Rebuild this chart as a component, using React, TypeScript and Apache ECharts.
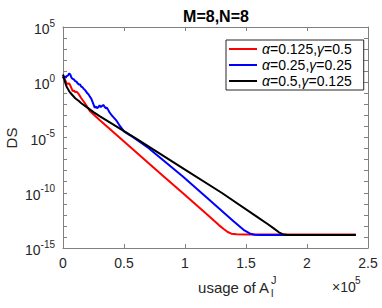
import React, { useEffect, useRef } from 'react';
import * as echarts from 'echarts';

// x in units of 1e5 (usage of A), y as log10(DS)
const redX = [0, 0.01, 0.02, 0.03, 0.04, 0.05, 0.06, 0.07, 0.08, 0.09, 0.1, 0.11, 0.12, 0.13, 0.15, 0.18, 0.22, 0.3, 0.5, 0.8, 1.0, 1.2, 1.28, 1.32, 1.35, 1.38, 1.42, 1.5, 2.0, 2.4];
const redY = [0.5, 0.3, 0.15, -0.1, -0.15, -0.1, -0.3, -0.55, -0.8, -0.75, -0.9, -0.85, -0.95, -1.1, -1.45, -1.9, -2.6, -3.42, -5.36, -8.27, -10.2, -12.15, -12.95, -13.3, -13.55, -13.7, -13.76, -13.77, -13.77, -13.77];

const blueX = [0, 0.01, 0.02, 0.03, 0.04, 0.05, 0.06, 0.07, 0.08, 0.09, 0.1, 0.11, 0.12, 0.13, 0.14, 0.15, 0.16, 0.17, 0.18, 0.19, 0.2, 0.21, 0.22, 0.23, 0.24, 0.25, 0.26, 0.27, 0.28, 0.29, 0.3, 0.31, 0.32, 0.33, 0.34, 0.35, 0.36, 0.37, 0.38, 0.39, 0.4, 0.42, 0.44, 0.46, 0.48, 0.5, 0.55, 0.63, 0.7, 0.98, 1.18, 1.4, 1.48, 1.53, 1.57, 1.62, 2.0, 2.4];
const blueY = [0.35, 0.55, 0.4, 0.55, 0.6, 0.8, 0.7, 0.4, 0.3, 0.25, 0.1, 0.05, -0.1, -0.2, -0.2, -0.4, -0.45, -0.6, -0.7, -0.85, -1.0, -1.1, -1.3, -1.45, -1.7, -2.0, -2.3, -2.2, -2.35, -2.25, -2.1, -2.25, -2.15, -2.05, -2.2, -2.35, -2.3, -2.5, -2.7, -2.85, -3.0, -3.25, -3.5, -3.85, -4.15, -4.45, -4.8, -5.4, -5.95, -8.5, -10.45, -12.6, -13.35, -13.68, -13.8, -13.83, -13.83, -13.83];

const blackX = [0, 0.01, 0.02, 0.03, 0.04, 0.05, 0.06, 0.08, 0.1, 0.13, 0.15, 0.2, 0.25, 0.3, 0.6, 1.0, 1.3, 1.6, 1.68, 1.73, 1.77, 1.8, 1.84, 2.0, 2.4];
const blackY = [0.7, 0.3, -0.1, -0.4, -0.6, -0.8, -0.95, -1.2, -1.45, -1.7, -1.9, -2.3, -2.7, -3.07, -5.1, -7.9, -10.0, -12.25, -12.85, -13.25, -13.58, -13.75, -13.83, -13.83, -13.83];

const seriesNames = ['s1', 's2', 's3'];
const alphaLabels = ['0.125', '0.25', '0.5'];
const gammaLabels = ['0.5', '0.25', '0.125'];
const seriesColors = ['#ff0000', '#0000ff', '#000000'];

const xMin = 0, xMax = 2.5, xInterval = 0.5;
const yMin = -15, yMax = 5, yInterval = 1, yLabelEvery = 5;

const FONT = '"Liberation Sans", Arial, Helvetica, sans-serif';

export default function App() {
  const ref = useRef<HTMLDivElement>(null);
  useEffect(() => {
    const chart = echarts.init(ref.current!, null, { renderer: 'svg' });
    const pair = (xs: number[], ys: number[]) => xs.map((x, i) => [x, ys[i]]);
    const data = [pair(redX, redY), pair(blueX, blueY), pair(blackX, blackY)];
    const axisColor = '#808080';
    const xAxisBase = {
      type: 'value', min: xMin, max: xMax, interval: xInterval,
      axisLine: { show: true, onZero: false, lineStyle: { color: axisColor, width: 1 } },
      axisTick: { show: true, inside: true, length: 4, lineStyle: { color: axisColor } },
      splitLine: { show: false },
    };
    const yAxisBase = {
      type: 'value', min: yMin, max: yMax, interval: yInterval,
      axisLine: { show: true, onZero: false, lineStyle: { color: axisColor, width: 1 } },
      axisTick: { show: true, inside: true, length: 4, lineStyle: { color: axisColor } },
      splitLine: { show: false },
    };
    chart.setOption({
      animation: false,
      grid: { left: 63, right: 14, top: 27, bottom: 60, containLabel: false },
      xAxis: [
        {
          ...xAxisBase, position: 'bottom',
          axisLabel: { color: '#262626', fontSize: 14, fontFamily: FONT, margin: 8, showMinLabel: true, showMaxLabel: true },
        },
        { ...xAxisBase, position: 'top', axisLabel: { show: false } },
      ],
      yAxis: [
        {
          ...yAxisBase, position: 'left',
          axisLabel: {
            color: '#262626', fontFamily: FONT, margin: 8, showMinLabel: true, showMaxLabel: true,
            formatter: (v: number) => (Math.round(v) % yLabelEvery === 0 ? `{b|10}{s|${Math.round(v)}}` : ''),
            rich: {
              b: { fontSize: 14, fontFamily: FONT, color: '#262626', lineHeight: 16, padding: [4, 0, 0, 0] },
              s: { fontSize: 10, fontFamily: FONT, color: '#262626', lineHeight: 12, padding: [0, 0, 8, 0] },
            },
          },
        },
        { ...yAxisBase, position: 'right', axisLabel: { show: false } },
      ],
      legend: {
        show: true,
        data: seriesNames,
        orient: 'vertical',
        left: 226,
        top: 40,
        itemWidth: 28,
        itemHeight: 2,
        itemGap: 2,
        icon: 'rect',
        padding: [2, 12, 2, 3],
        borderColor: '#262626',
        borderWidth: 1,
        backgroundColor: '#ffffff',
        formatter: (name: string) => {
          const i = seriesNames.indexOf(name);
          return `{i|α}{n|=${alphaLabels[i]},}{i|γ}{n|=${gammaLabels[i]}}`;
        },
        textStyle: {
          fontSize: 14, fontFamily: FONT, color: '#000',
          rich: {
            i: { fontSize: 14, fontFamily: FONT, fontStyle: 'italic', color: '#000', lineHeight: 15 },
            n: { fontSize: 14, fontFamily: FONT, color: '#000', lineHeight: 15 },
          },
        },
      },
      graphic: [
        { type: 'text', x: 216, y: 16, style: { text: 'M=8,N=8', fontSize: 16, fontWeight: 'bold', fontFamily: FONT, fill: '#000', textAlign: 'center', textVerticalAlign: 'middle' } },
        { type: 'text', x: 11, y: 138, rotation: Math.PI / 2, style: { text: 'DS', fontSize: 15, fontFamily: FONT, fill: '#262626', textAlign: 'center', textVerticalAlign: 'middle' } },
        { type: 'text', x: 269, y: 287, style: { text: 'usage of A', fontSize: 15, fontFamily: FONT, fill: '#262626', textAlign: 'right', textVerticalAlign: 'middle' } },
        { type: 'text', x: 271, y: 280, style: { text: 'J', fontSize: 11, fontFamily: FONT, fill: '#262626', textAlign: 'left', textVerticalAlign: 'middle' } },
        { type: 'text', x: 271, y: 293, style: { text: 'l', fontSize: 11, fontFamily: FONT, fill: '#262626', textAlign: 'left', textVerticalAlign: 'middle' } },
        { type: 'text', x: 332, y: 287, style: { text: '×10', fontSize: 14, fontFamily: FONT, fill: '#262626', textAlign: 'left', textVerticalAlign: 'middle' } },
        { type: 'text', x: 355, y: 280, style: { text: '5', fontSize: 10, fontFamily: FONT, fill: '#262626', textAlign: 'left', textVerticalAlign: 'middle' } },
      ],
      series: seriesNames.map((name, i) => ({
        name,
        type: 'line',
        data: data[i],
        showSymbol: false,
        symbol: 'none',
        smooth: false,
        clip: true,
        lineStyle: { color: seriesColors[i], width: 2 },
        itemStyle: { color: seriesColors[i] },
        z: 2 + i,
      })),
    });
    return () => chart.dispose();
  }, []);
  return <div ref={ref} style={{ width: 382, height: 308, position: 'absolute', left: 0, top: 0 }} />;
}
